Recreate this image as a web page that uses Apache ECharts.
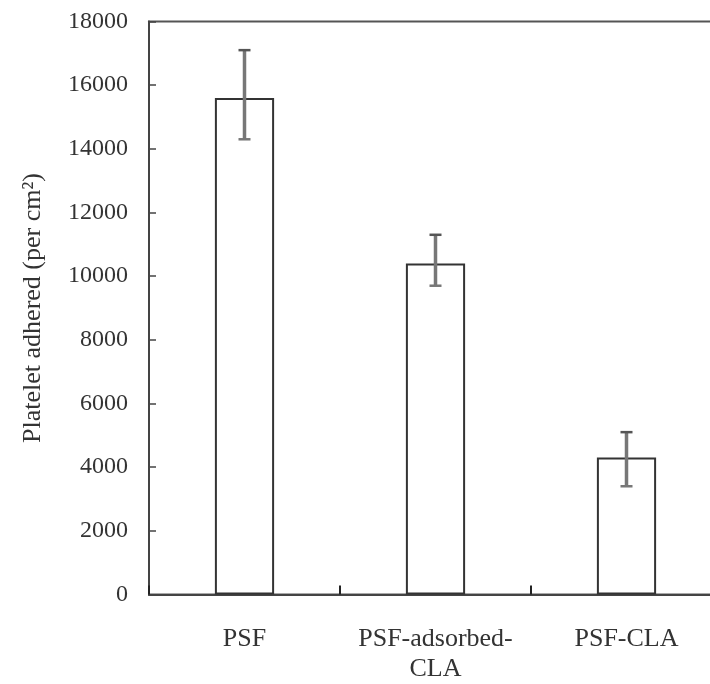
<!DOCTYPE html>
<html>
<head>
<meta charset="utf-8">
<script src="https://cdn.jsdelivr.net/npm/echarts@6/dist/echarts.min.js"></script>
<style>html,body{margin:0;padding:0;background:#fff}#c{width:710px;height:684px}</style>
</head>
<body>
<div id="c"></div>
<script>
const categories = ['PSF', 'PSF-adsorbed-\nCLA', 'PSF-CLA'];
const values = [15600, 10400, 4300];
const errLow = [14300, 9700, 3400];
const errHigh = [17100, 11300, 5100];
const yTicks = [0, 2000, 4000, 6000, 8000, 10000, 12000, 14000, 16000, 18000];

const chart = echarts.init(document.getElementById('c'), null, {renderer: 'canvas'});
const font = '"Liberation Serif", "Times New Roman", serif';
chart.setOption({
  animation: false,
  backgroundColor: '#fff',
  grid: {left: 149, top: 21.5, width: 573, height: 573, outerBoundsMode: 'none', containLabel: false,
         show: true, borderColor: '#555', borderWidth: 2, backgroundColor: 'transparent'},
  xAxis: {
    type: 'category', data: categories, boundaryGap: true,
    axisLine: {show: true, lineStyle: {color: '#444', width: 2}},
    axisTick: {show: true, inside: true, length: 9, interval: 0, lineStyle: {color: '#222', width: 2}},
    axisLabel: {fontFamily: font, fontSize: 26, color: '#333', margin: 30, lineHeight: 30, interval: 0, hideOverlap: false}
  },
  yAxis: {
    type: 'value', min: yTicks[0], max: yTicks[yTicks.length - 1], interval: 2000,
    name: 'Platelet adhered (per cm\u00B2)', nameLocation: 'middle', nameGap: 103,
    nameTextStyle: {fontFamily: font, fontSize: 26, color: '#333'},
    axisLine: {show: true, lineStyle: {color: '#444', width: 2}},
    axisTick: {show: true, inside: true, length: 7, lineStyle: {color: '#444', width: 1.5}},
    axisLabel: {fontFamily: font, fontSize: 24, color: '#333', margin: 21, formatter: v => String(v)},
    splitLine: {show: false}
  },
  series: [
    {
      type: 'bar', data: values, barWidth: '31%',
      itemStyle: {color: '#fff', borderColor: '#333', borderWidth: 2}
    },
    {
      type: 'custom',
      data: categories.map((c, i) => [i, errLow[i], errHigh[i]]),
      renderItem: function (params, api) {
        const x = api.value(0);
        const lo = api.coord([x, api.value(1)]);
        const hi = api.coord([x, api.value(2)]);
        const hw = 6;
        return {
          type: 'group',
          children: [
            {type: 'line', shape: {x1: hi[0], y1: hi[1], x2: lo[0], y2: lo[1]}, style: {stroke: '#777', lineWidth: 3.5}},
            {type: 'line', shape: {x1: hi[0] - hw, y1: hi[1], x2: hi[0] + hw, y2: hi[1]}, style: {stroke: '#555', lineWidth: 2.5}},
            {type: 'line', shape: {x1: lo[0] - hw, y1: lo[1], x2: lo[0] + hw, y2: lo[1]}, style: {stroke: '#777', lineWidth: 2.5}}
          ]
        };
      },
      z: 5
    }
  ]
});
</script>
</body>
</html>
